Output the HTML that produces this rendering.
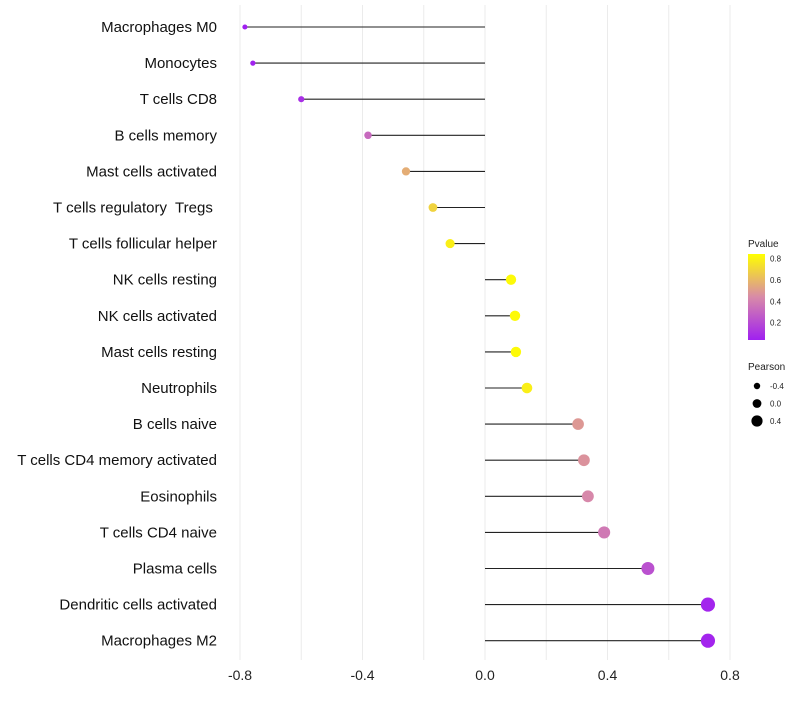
<!DOCTYPE html>
<html><head><meta charset="utf-8"><style>body{margin:0;background:#fff}svg{font-family:"Liberation Sans",sans-serif}text{white-space:pre}</style></head>
<body>
<svg id="c" width="800" height="700">
<defs><linearGradient id="pg" x1="0" y1="1" x2="0" y2="0">
<stop offset="0" stop-color="#a020f0"/><stop offset="0.5" stop-color="#d88aa8"/><stop offset="1" stop-color="#ffff00"/></linearGradient></defs>
</svg>
<script>
const categories=["Macrophages M0","Monocytes","T cells CD8","B cells memory","Mast cells activated","T cells regulatory  Tregs ","T cells follicular helper","NK cells resting","NK cells activated","Mast cells resting","Neutrophils","B cells naive","T cells CD4 memory activated","Eosinophils","T cells CD4 naive","Plasma cells","Dendritic cells activated","Macrophages M2"];
const pearson=[-0.784,-0.758,-0.60,-0.382,-0.258,-0.170,-0.114,0.085,0.098,0.101,0.137,0.304,0.323,0.336,0.389,0.532,0.728,0.728];
const pvalues=[0.02,0.03,0.08,0.32,0.58,0.72,0.82,0.86,0.86,0.86,0.82,0.5,0.48,0.44,0.38,0.22,0.04,0.04];
const xTicks=[-0.8,-0.4,0.0,0.4,0.8];
const pTicks=[0.8,0.6,0.4,0.2];
const sizeTicks=[-0.4,0.0,0.4];
const svg=document.getElementById('c');const NS='http://www.w3.org/2000/svg';
function mk(t,a,p){const e=document.createElementNS(NS,t);for(const k in a)e.setAttribute(k,a[k]);(p||svg).appendChild(e);return e;}
const x=v=>485+v*306.25;
const y=i=>27+i*36.1;
const rad=v=>2.5+(v+0.8)*3;
const pY=p=>344-p*106.7;
function col(p){const t=Math.max(0,Math.min(1,(p-0.02)/0.86));const s=[[160,32,240],[216,138,168],[255,255,0]];let a,b,u;if(t<0.5){a=s[0];b=s[1];u=t*2}else{a=s[1];b=s[2];u=(t-0.5)*2}return `rgb(${a.map((c,i)=>Math.round(c+(b[i]-c)*u)).join(',')})`;}
for(let v=-0.8;v<=0.801;v+=0.2){const g=mk('line',{x1:x(v),x2:x(v),y1:5,y2:660,stroke:'#ebebeb','stroke-width':1});

}
xTicks.forEach(t=>{const e=mk('text',{x:x(t),y:680,'text-anchor':'middle','font-size':14,fill:'#222'});e.textContent=t.toFixed(1);

});
categories.forEach((c,i)=>{
const l=mk('text',{x:217,y:y(i)+5,'text-anchor':'end','font-size':15,fill:'#111'});l.textContent=c;


const s=mk('line',{x1:x(0),x2:x(pearson[i]),y1:y(i),y2:y(i),stroke:'#222','stroke-width':1.1});


const d=mk('circle',{cx:x(pearson[i]),cy:y(i),r:rad(pearson[i]),fill:col(pvalues[i])});


});
const lt=mk('text',{x:748,y:247,'font-size':10,fill:'#222'});lt.textContent='Pvalue';


const bar=mk('rect',{x:748,y:254,width:17,height:86,fill:'url(#pg)'});


pTicks.forEach(p=>{const e=mk('text',{x:770,y:pY(p)+3,'font-size':8,fill:'#222'});e.textContent=p.toFixed(1);

});
const st=mk('text',{x:748,y:370,'font-size':10,fill:'#222'});st.textContent='Pearson';


sizeTicks.forEach((v,i)=>{const cy=386+i*17.5;
const d=mk('circle',{cx:757,cy:cy,r:rad(v)-0.5,fill:'#000'});


const e=mk('text',{x:770,y:cy+3,'font-size':8,fill:'#222'});e.textContent=v.toFixed(1);

});
</script>
</body></html>
